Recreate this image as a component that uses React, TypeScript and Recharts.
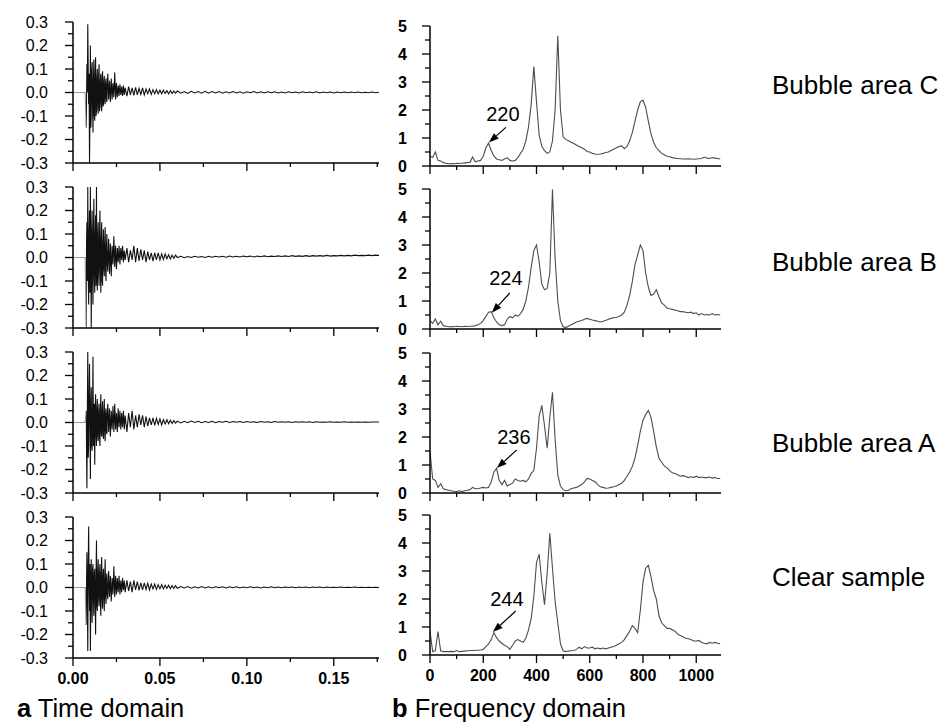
import React from "react";
import { Line, LineChart, ReferenceDot, ReferenceLine, XAxis, YAxis } from "recharts";

const FONT = "'Liberation Sans', Arial, Helvetica, sans-serif";

// sample times in ms (dense during the burst, sparse in the tail)
const timeMs = [
  0, 7,
  7.5, 7.75, 8, 8.25, 8.5, 8.75, 9, 9.25, 9.5, 9.75,
  10, 10.25, 10.5, 10.75, 11, 11.25, 11.5, 11.75, 12, 12.25,
  12.5, 12.75, 13, 13.25, 13.5, 13.75, 14, 14.25, 14.5, 14.75,
  15, 15.25, 15.5, 15.75, 16, 16.25, 16.5, 16.75, 17, 17.25,
  17.5, 17.75, 18, 18.25, 18.5, 18.75, 19, 19.25, 19.5, 19.75,
  20,
  20.5, 21, 21.5, 22, 22.5, 23, 23.5, 24, 24.5, 25, 25.5, 26, 26.5, 27, 27.5, 28, 28.5, 29, 29.5, 30,
  31, 32, 33, 34, 35, 36, 37, 38, 39, 40, 41, 42, 43, 44, 45, 46, 47, 48, 49, 50,
  51, 52, 53, 54, 55, 56, 57, 58, 59,
  60, 62, 64, 66, 68, 70, 72, 74, 76, 78, 80, 82, 84, 86, 88, 90, 92, 94, 96, 98,
  100, 102, 104, 106, 108, 110, 112, 114, 116, 118, 120, 122, 124, 126, 128, 130, 132, 134, 136, 138,
  140, 142, 144, 146, 148, 150, 152, 154, 156, 158, 160, 162, 164, 166, 168, 170, 172, 174, 176,
];

const timeC = [
  0, 0,
  -0.15, -0.05, 0.12, 0.0, 0.29, 0.1, -0.05, 0.08, -0.3, -0.1,
  0.2, -0.15, -0.1, 0.1, 0.13, -0.06, -0.17, 0.05, 0.14, -0.1,
  -0.12, 0.08, 0.15, -0.1, -0.08, 0.06, 0.1, -0.07, -0.09, 0.07,
  0.12, -0.08, -0.06, 0.05, 0.08, -0.05, -0.08, 0.06, 0.09, -0.06,
  -0.05, 0.05, 0.07, -0.04, -0.05, 0.04, 0.06, -0.03, -0.04, 0.04,
  0.08,
  -0.03, 0.05, -0.04, 0.06, -0.03, 0.04, -0.02, 0.085, -0.03, 0.04,
  -0.02, 0.03, -0.015, 0.035, -0.01, 0.025, -0.015, 0.03, -0.01, 0.02,
  -0.015, 0.025, -0.01, 0.02, -0.012, 0.022, -0.01, 0.018, -0.008, 0.02,
  -0.01, 0.015, -0.005, 0.015, -0.008, 0.012, -0.005, 0.012, -0.006, 0.01,
  -0.005, 0.01, -0.004, 0.008, -0.006, 0.008, -0.004, 0.006, -0.003,
  0.006, -0.003, 0.004, -0.004, 0.005, -0.002, 0.004, -0.003, 0.005, -0.003,
  0.004, -0.002, 0.004, -0.003, 0.003, -0.002, 0.004, -0.002, 0.003, -0.003,
  0.003, -0.001, 0.004, -0.002, 0.003, -0.002, 0.003, -0.001, 0.003, -0.002,
  0.002, -0.002, 0.003, -0.001, 0.002, -0.002, 0.003, -0.001, 0.002, -0.001,
  0.003, -0.002, 0.002, -0.001, 0.002, -0.002, 0.002, -0.001, 0.002, -0.001,
  0.002, -0.001, 0.002, -0.001, 0.001, -0.001, 0.002, -0.001, 0.001,
];

const timeB = [
  0, 0,
  -0.3, 0.05, 0.15, -0.1, 0.3, -0.05, -0.2, 0.1, 0.2, -0.15,
  0.3, 0.0, -0.3, 0.1, 0.2, -0.1, -0.2, 0.12, 0.25, -0.08,
  -0.15, 0.1, 0.18, -0.12, 0.3, -0.05, -0.14, 0.1, 0.15, -0.08,
  -0.12, 0.1, 0.2, -0.05, -0.15, 0.08, 0.15, -0.1, -0.12, 0.06,
  0.12, -0.05, -0.08, 0.07, 0.13, -0.06, -0.1, 0.05, 0.1, -0.03,
  -0.06,
  0.08, -0.07, 0.06, -0.08, 0.05, -0.03, 0.09, -0.04, 0.05, -0.05,
  0.04, -0.02, 0.05, -0.03, 0.04, -0.01, 0.05, -0.02, 0.03, -0.01,
  0.04, -0.02, 0.03, -0.01, 0.05, -0.02, 0.04, -0.015, 0.035, -0.01,
  0.03, -0.02, 0.025, -0.01, 0.02, -0.015, 0.02, -0.01, 0.02, -0.01,
  0.015, -0.008, 0.015, -0.005, 0.012, -0.006, 0.01, -0.004, 0.01,
  0.0, 0.005, -0.001, 0.004, 0.0, 0.005, 0.001, 0.004, 0.0, 0.005,
  0.001, 0.005, 0.002, 0.005, 0.001, 0.006, 0.002, 0.005, 0.002, 0.006,
  0.003, 0.006, 0.002, 0.006, 0.003, 0.007, 0.003, 0.006, 0.004, 0.007,
  0.004, 0.007, 0.004, 0.008, 0.005, 0.007, 0.005, 0.008, 0.005, 0.008,
  0.006, 0.008, 0.006, 0.009, 0.006, 0.008, 0.007, 0.009, 0.007, 0.009,
  0.007, 0.01, 0.008, 0.009, 0.008, 0.01, 0.008, 0.01, 0.009,
];

const timeA = [
  0, 0,
  0.05, -0.1, -0.28, 0.05, 0.3, -0.15, -0.1, 0.12, 0.25, 0.0,
  -0.24, 0.08, 0.15, -0.1, -0.12, 0.05, 0.28, -0.1, -0.05, 0.08,
  -0.18, 0.05, 0.12, -0.05, -0.1, 0.06, 0.1, -0.06, -0.08, 0.05,
  0.08, -0.06, -0.1, 0.05, 0.12, -0.04, -0.06, 0.05, 0.09, -0.05,
  -0.07, 0.04, 0.1, -0.05, -0.08, 0.04, 0.06, -0.04, -0.05, 0.04,
  0.08,
  -0.04, 0.06, -0.06, 0.05, -0.03, 0.07, -0.04, 0.08, -0.03, 0.04,
  -0.04, 0.06, -0.02, 0.05, -0.03, 0.04, -0.02, 0.05, -0.03, 0.03,
  -0.04, 0.04, -0.02, 0.05, -0.03, 0.03, -0.02, 0.035, -0.01, 0.03,
  -0.02, 0.025, -0.015, 0.02, -0.01, 0.02, -0.012, 0.018, -0.008, 0.015,
  -0.01, 0.012, -0.006, 0.012, -0.005, 0.01, -0.004, 0.008, -0.003,
  0.006, -0.002, 0.005, -0.001, 0.006, 0.0, 0.005, -0.001, 0.004, 0.0,
  0.005, -0.001, 0.004, 0.001, 0.005, 0.0, 0.004, 0.001, 0.004, 0.0,
  0.004, 0.001, 0.003, 0.0, 0.004, 0.001, 0.003, 0.0, 0.004, 0.001,
  0.003, 0.001, 0.003, 0.0, 0.003, 0.001, 0.003, 0.001, 0.003, 0.0,
  0.003, 0.001, 0.002, 0.001, 0.003, 0.001, 0.002, 0.001, 0.003, 0.001,
  0.002, 0.001, 0.002, 0.001, 0.002, 0.001, 0.002, 0.002, 0.002,
];

const timeClear = [
  0, 0,
  -0.16, 0.0, 0.15, -0.05, -0.27, 0.1, 0.26, 0.05, -0.1, 0.1,
  -0.27, -0.05, 0.12, -0.05, -0.15, 0.08, 0.1, -0.05, -0.12, 0.06,
  0.08, -0.06, -0.2, 0.05, 0.2, -0.08, -0.1, 0.07, 0.12, -0.05,
  -0.08, 0.06, 0.1, -0.06, -0.12, 0.06, 0.13, -0.05, -0.09, 0.05,
  0.08, -0.05, -0.1, 0.05, 0.12, -0.04, -0.07, 0.04, 0.06, -0.03,
  -0.05,
  0.07, -0.04, 0.05, -0.06, 0.04, -0.03, 0.09, -0.04, 0.05, -0.03,
  0.04, -0.02, 0.05, -0.03, 0.03, -0.02, 0.04, -0.01, 0.03, -0.02,
  0.03, -0.015, 0.025, -0.02, 0.03, -0.01, 0.025, -0.012, 0.02, -0.01,
  0.02, -0.008, 0.018, -0.01, 0.015, -0.006, 0.015, -0.008, 0.012, -0.005,
  0.012, -0.006, 0.01, -0.004, 0.01, -0.005, 0.008, -0.004, 0.008,
  -0.003, 0.004, -0.002, 0.004, -0.003, 0.003, -0.002, 0.004, -0.002, 0.003,
  -0.002, 0.003, -0.001, 0.003, -0.002, 0.003, -0.001, 0.003, -0.002, 0.002,
  -0.001, 0.003, -0.001, 0.002, -0.002, 0.002, -0.001, 0.003, -0.001, 0.002,
  -0.001, 0.002, 0.0, 0.002, -0.001, 0.002, 0.0, 0.002, -0.001, 0.002,
  0.0, 0.002, -0.001, 0.002, 0.0, 0.001, 0.0, 0.002, 0.0, 0.001,
  0.0, 0.002, 0.0, 0.001, 0.0, 0.001, 0.0, 0.001, 0.0,
];

// frequency grid in Hz
const freqHz = [
  0, 10, 20, 30, 40, 50, 60, 70, 80, 90, 100, 110, 120, 130, 140, 150, 160, 170, 180, 190,
  200, 210, 220, 230, 240, 250, 260, 270, 280, 290, 300, 310, 320, 330, 340, 350, 360, 370, 380, 390,
  400, 410, 420, 430, 440, 450, 460, 470, 480, 490, 500, 510, 520, 530, 540, 550, 560, 570, 580, 590,
  600, 610, 620, 630, 640, 650, 660, 670, 680, 690, 700, 710, 720, 730, 740, 750, 760, 770, 780, 790,
  800, 810, 820, 830, 840, 850, 860, 870, 880, 890, 900, 910, 920, 930, 940, 950, 960, 970, 980, 990,
  1000, 1010, 1020, 1030, 1040, 1050, 1060, 1070, 1080, 1090,
];

const specC = [
  0.35, 0.3, 0.5, 0.2, 0.18, 0.12, 0.1, 0.08, 0.09, 0.08,
  0.1, 0.09, 0.1, 0.11, 0.12, 0.13, 0.32, 0.15, 0.18, 0.2,
  0.35, 0.65, 0.82, 0.55, 0.35, 0.25, 0.22, 0.2, 0.25, 0.3,
  0.2, 0.18, 0.2, 0.3, 0.45, 0.6, 0.9, 1.4, 2.2, 3.55,
  2.3, 1.1, 0.7, 0.55, 0.45, 0.5, 0.9, 2.0, 4.65, 2.0,
  1.05, 0.95, 0.9, 0.85, 0.8, 0.75, 0.7, 0.65, 0.6, 0.52,
  0.5, 0.45, 0.43, 0.42, 0.43, 0.45, 0.48, 0.5, 0.55, 0.6,
  0.65, 0.7, 0.72, 0.62, 0.7, 0.9, 1.2, 1.6, 2.0, 2.3,
  2.35, 2.1, 1.6, 1.15, 0.85, 0.65, 0.55, 0.45, 0.4, 0.35,
  0.33, 0.3, 0.28, 0.27, 0.26, 0.25, 0.25, 0.26, 0.25, 0.24,
  0.25, 0.26, 0.27, 0.32, 0.28, 0.27, 0.3, 0.28, 0.27, 0.25,
];

const specB = [
  0.3, 0.2, 0.36, 0.15, 0.28, 0.12, 0.1, 0.08, 0.09, 0.08,
  0.1, 0.09, 0.08, 0.1, 0.09, 0.1, 0.1, 0.12, 0.15, 0.2,
  0.3, 0.45, 0.6, 0.62, 0.4, 0.25, 0.15, 0.12, 0.15, 0.35,
  0.45, 0.4, 0.5, 0.45, 0.55, 0.7, 1.0, 1.5, 2.2, 2.8,
  3.0, 2.4, 1.6, 1.4, 1.45, 2.0, 4.98, 2.5, 1.0, 0.3,
  0.08, 0.05, 0.1, 0.15, 0.2, 0.25, 0.28, 0.3, 0.35, 0.38,
  0.35, 0.32, 0.3, 0.28, 0.25, 0.28, 0.3, 0.35, 0.38, 0.4,
  0.42, 0.45, 0.5, 0.6, 0.85, 1.2, 1.7, 2.3, 2.65, 3.0,
  2.8, 2.0, 1.5, 1.2, 1.25, 1.4, 1.15, 0.93, 0.85, 0.75,
  0.72, 0.7, 0.68, 0.65, 0.62, 0.62, 0.6, 0.58, 0.6, 0.55,
  0.58, 0.5, 0.55, 0.5, 0.52, 0.5, 0.55, 0.5, 0.52, 0.5,
];

const specA = [
  1.5, 0.5, 0.45, 0.2, 0.33, 0.15, 0.12, 0.1, 0.08, 0.06,
  0.05, 0.08, 0.05, 0.08, 0.1, 0.12, 0.2, 0.15, 0.15, 0.18,
  0.2, 0.18, 0.2, 0.4, 0.75, 0.88, 0.45, 0.3, 0.45, 0.25,
  0.3, 0.35, 0.5, 0.45, 0.42, 0.45, 0.4, 0.5, 0.7, 0.8,
  1.6, 2.75, 3.13, 2.4, 1.6, 2.7, 3.6, 1.9, 0.65, 0.25,
  0.12, 0.08, 0.1, 0.15, 0.18, 0.2, 0.25, 0.3, 0.4, 0.52,
  0.5, 0.45, 0.4, 0.3, 0.22, 0.2, 0.17, 0.18, 0.2, 0.22,
  0.25, 0.3, 0.35, 0.45, 0.6, 0.75, 0.95, 1.25, 1.7, 2.2,
  2.6, 2.8, 2.95, 2.7, 2.2, 1.65, 1.25, 1.1, 0.97, 0.9,
  0.8, 0.72, 0.7, 0.65, 0.6, 0.62, 0.6, 0.55, 0.58, 0.55,
  0.6, 0.55, 0.57, 0.55, 0.55, 0.57, 0.53, 0.55, 0.52, 0.52,
];

const specClear = [
  0.85, 0.12, 0.15, 0.84, 0.15, 0.12, 0.12, 0.12, 0.13, 0.12,
  0.16, 0.12, 0.13, 0.14, 0.15, 0.16, 0.16, 0.17, 0.17, 0.18,
  0.2, 0.3, 0.4, 0.55, 0.8, 0.62, 0.5, 0.42, 0.35, 0.3,
  0.2, 0.35, 0.5, 0.55, 0.5, 0.45, 0.6, 0.9, 1.3, 2.1,
  3.3, 3.6, 2.6, 1.8, 2.9, 4.35, 3.1, 1.9, 1.15, 0.4,
  0.15, 0.12, 0.14, 0.15, 0.16, 0.2, 0.28, 0.22, 0.3, 0.25,
  0.25, 0.28, 0.22, 0.25, 0.22, 0.25, 0.22, 0.25, 0.28, 0.3,
  0.35, 0.4, 0.45, 0.55, 0.7, 0.85, 1.05, 0.95, 0.8, 1.6,
  2.6, 3.1, 3.2, 2.8, 2.3, 2.0, 1.4, 1.15, 1.05, 0.95,
  0.95, 0.9, 0.85, 0.75, 0.7, 0.65, 0.6, 0.58, 0.55, 0.5,
  0.5, 0.52, 0.45, 0.42, 0.4, 0.45, 0.42, 0.45, 0.42, 0.4,
];

const sampleNames = ["Bubble area C", "Bubble area B", "Bubble area A", "Clear sample"];
const timeSeries = [timeC, timeB, timeA, timeClear];
const specSeries = [specC, specB, specA, specClear];

// peak annotations, in data units (Hz, magnitude)
const peakLabels = ["220", "224", "236", "244"];
const peakTextAt = [[274, 1.85], [285, 1.83], [315, 2.0], [289, 2.0]];
const peakArrowFrom = [[285, 1.38], [300, 1.29], [326, 1.54], [322, 1.57]];
const peakArrowTo = [[221, 0.84], [232, 0.58], [251, 0.89], [236, 0.82]];

const timeTicks = [0, 25, 50, 75, 100, 125, 150, 175];
const ampTicks = [-0.3, -0.25, -0.2, -0.15, -0.1, -0.05, 0, 0.05, 0.1, 0.15, 0.2, 0.25, 0.3];
const hzTicks = [0, 100, 200, 300, 400, 500, 600, 700, 800, 900, 1000];
const magTicks = [0, 0.5, 1, 1.5, 2, 2.5, 3, 3.5, 4, 4.5, 5];

// layout
const timePlotTop = [22, 187, 352, 517];
const timePlotH = 141;
const freqPlotTop = [25.5, 189, 353, 515];
const freqPlotH = 140;
const TOP_PAD = 12;
const AXIS_H = 40;

const isMult = (v: number, step: number) => Math.abs(v / step - Math.round(v / step)) < 1e-6;

function TimeXTick({ x, y, payload, show }: any) {
  const v = payload.value;
  const major = isMult(v, 50);
  return (
    <g>
      <line x1={x} x2={x} y1={y} y2={y + (major ? 8 : 4)} stroke="#000" strokeWidth={1.3} />
      {show && major ? (
        <text x={x} y={y + 20} dy="0.355em" textAnchor="middle" fontSize={16} fontWeight="bold" fontFamily={FONT} fill="#000">
          {(v / 1000).toFixed(2)}
        </text>
      ) : null}
    </g>
  );
}

function AmpYTick({ x, y, payload }: any) {
  const v = payload.value;
  const major = isMult(v, 0.1);
  return (
    <g>
      <line x1={x - (major ? 8 : 5)} x2={x} y1={y} y2={y} stroke="#000" strokeWidth={1.3} />
      {major ? (
        <text x={x - 25} y={y} dy="0.355em" textAnchor="end" fontSize={16} fontFamily={FONT} fill="#000">
          {v.toFixed(1)}
        </text>
      ) : null}
    </g>
  );
}

function HzXTick({ x, y, payload, show }: any) {
  const v = payload.value;
  const major = isMult(v, 200);
  return (
    <g>
      <line x1={x} x2={x} y1={y} y2={y + (major ? 8 : 4)} stroke="#000" strokeWidth={1.3} />
      {show && major ? (
        <text x={x} y={y + 20} dy="0.355em" textAnchor="middle" fontSize={16} fontWeight="bold" fontFamily={FONT} fill="#000">
          {v}
        </text>
      ) : null}
    </g>
  );
}

function MagYTick({ x, y, payload }: any) {
  const v = payload.value;
  const major = isMult(v, 1);
  return (
    <g>
      <line x1={x - (major ? 8 : 5)} x2={x} y1={y} y2={y} stroke="#000" strokeWidth={1.3} />
      {major ? (
        <text x={x - 23} y={y} dy="0.355em" textAnchor="end" fontSize={16} fontWeight="bold" fontFamily={FONT} fill="#000">
          {v}
        </text>
      ) : null}
    </g>
  );
}

function Arrow(props: any) {
  const { x1, y1, x2, y2 } = props;
  const dx = x2 - x1;
  const dy = y2 - y1;
  const len = Math.hypot(dx, dy) || 1;
  const ux = dx / len;
  const uy = dy / len;
  const head = 10;
  const half = 3.6;
  const bx = x2 - ux * head;
  const by = y2 - uy * head;
  const pts = `${x2},${y2} ${bx - uy * half},${by + ux * half} ${bx + uy * half},${by - ux * half}`;
  return (
    <g>
      <line x1={x1} y1={y1} x2={bx} y2={by} stroke="#000" strokeWidth={1.2} />
      <polygon points={pts} fill="#000" />
    </g>
  );
}

const axisStyle = { stroke: "#000", strokeWidth: 1.5 };

function TimePanel({ row }: { row: number }) {
  const values = timeSeries[row];
  const data = timeMs.map((t, i) => ({ t, v: values[i] }));
  const bottom = row === 3;
  return (
    <div style={{ position: "absolute", left: 0, top: timePlotTop[row] - TOP_PAD }}>
      <LineChart width={390} height={TOP_PAD + timePlotH + AXIS_H} data={data} margin={{ top: TOP_PAD, right: 11, bottom: 0, left: 0 }}>
        <defs>
          <linearGradient id={`pre-${row}`} x1="0" x2="1" y1="0" y2="0">
            <stop offset="0.042" stopColor="#999" />
            <stop offset="0.042" stopColor="#111" />
          </linearGradient>
        </defs>
        <XAxis
          dataKey="t"
          type="number"
          domain={[0, 176]}
          ticks={timeTicks}
          interval={0}
          allowDataOverflow
          height={AXIS_H}
          tickSize={0}
          tickMargin={0}
          tickLine={false}
          axisLine={axisStyle}
          tick={(p: any) => <TimeXTick {...p} show={bottom} />}
        />
        <YAxis
          type="number"
          domain={[-0.3, 0.3]}
          ticks={ampTicks}
          interval={0}
          allowDataOverflow
          width={73}
          tickSize={0}
          tickMargin={0}
          tickLine={false}
          axisLine={axisStyle}
          tick={(p: any) => <AmpYTick {...p} />}
        />
        <Line type="linear" dataKey="v" stroke={`url(#pre-${row})`} strokeWidth={1.1} dot={false} activeDot={false} isAnimationActive={false} />
      </LineChart>
    </div>
  );
}

function FreqPanel({ row }: { row: number }) {
  const values = specSeries[row];
  const data = freqHz.map((f, i) => ({ f, m: values[i] }));
  const bottom = row === 3;
  return (
    <div style={{ position: "absolute", left: 390, top: freqPlotTop[row] - TOP_PAD }}>
      <LineChart width={341} height={TOP_PAD + freqPlotH + AXIS_H} data={data} margin={{ top: TOP_PAD, right: 10, bottom: 0, left: 0 }}>
        <XAxis
          dataKey="f"
          type="number"
          domain={[0, 1093]}
          ticks={hzTicks}
          interval={0}
          allowDataOverflow
          height={AXIS_H}
          tickSize={0}
          tickMargin={0}
          tickLine={false}
          axisLine={axisStyle}
          tick={(p: any) => <HzXTick {...p} show={bottom} />}
        />
        <YAxis
          type="number"
          domain={[0, 5]}
          ticks={magTicks}
          interval={0}
          allowDataOverflow
          width={40}
          tickSize={0}
          tickMargin={0}
          tickLine={false}
          axisLine={axisStyle}
          tick={(p: any) => <MagYTick {...p} />}
        />
        <Line type="linear" dataKey="m" stroke="#4d4d4d" strokeWidth={1.1} dot={false} activeDot={false} isAnimationActive={false} />
        <ReferenceLine
          segment={[
            { x: peakArrowFrom[row][0], y: peakArrowFrom[row][1] },
            { x: peakArrowTo[row][0], y: peakArrowTo[row][1] },
          ]}
          shape={(p: any) => <Arrow {...p} />}
        />
        <ReferenceDot
          x={peakTextAt[row][0]}
          y={peakTextAt[row][1]}
          r={0}
          shape={(p: any) => (
            <text x={p.cx} y={p.cy} dy="0.355em" textAnchor="middle" fontSize={20} fontFamily={FONT} fill="#000">
              {peakLabels[row]}
            </text>
          )}
        />
      </LineChart>
    </div>
  );
}

const nameBaselines = [94, 271, 452, 586];

export default function App() {
  const rows = [0, 1, 2, 3];
  return (
    <div style={{ position: "absolute", left: 0, top: 0, width: 942, height: 723, background: "#fff", overflow: "hidden" }}>
      {rows.map((r) => (
        <TimePanel key={`t${r}`} row={r} />
      ))}
      {rows.map((r) => (
        <FreqPanel key={`f${r}`} row={r} />
      ))}
      <svg width={942} height={723} style={{ position: "absolute", left: 0, top: 0, pointerEvents: "none" }}>
        {sampleNames.map((name, i) => (
          <text key={name} x={772} y={nameBaselines[i]} fontSize={26} fontFamily={FONT} fill="#000">
            {name}
          </text>
        ))}
        <text x={17} y={717} fontSize={25.5} fontFamily={FONT} fill="#000">
          <tspan fontWeight="bold">a</tspan> Time domain
        </text>
        <text x={392} y={717} fontSize={25.5} fontFamily={FONT} fill="#000">
          <tspan fontWeight="bold">b</tspan> Frequency domain
        </text>
      </svg>
    </div>
  );
}
